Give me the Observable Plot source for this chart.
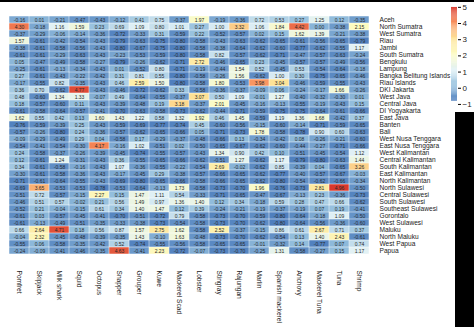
<!DOCTYPE html>
<html><head><meta charset="utf-8">
<script src="https://cdn.jsdelivr.net/npm/d3@7"></script>
<script src="https://cdn.jsdelivr.net/npm/@observablehq/plot@0.6"></script>
<style>
html,body{margin:0;padding:0;background:#fff;}
#wrap{position:relative;width:474px;height:327px;overflow:hidden;background:#fff;font-family:"Liberation Sans",Arial,sans-serif;}
#wrap svg{position:absolute;overflow:visible;}
.blk{position:absolute;background:#000;}
</style></head><body><div id="wrap"></div>
<script>
const provinces = ["Aceh","North Sumatra","West Sumatra","Riau","Jambi","South Sumatra","Bengkulu","Lampung","Bangka Belitung Islands","Riau Islands","DKI Jakarta","West Java","Central Java","DI Yogyakarta","East Java","Banten","Bali","West Nusa Tenggara","East Nusa Tenggara","West Kalimantan","Central Kalimantan","South Kalimantan","East Kalimantan","North Kalimantan","North Sulawesi","Central Sulawesi","South Sulawesi","Southeast Sulawesi","Gorontalo","West Sulawesi","Maluku","North Maluku","West Papua","Papua"];
const species = ["Pomfret","Skipjack","Milk shark","Squid","Octopus","Snapper","Grouper","Kuwe","Mackerel Scad","Lobster","Stingray","Rajungan","Marlin","Spanish mackerel","Anchovy","Mackerel Tuna","Tuna","Shrimp"];
const values = [
[-0.16,0.01,-0.21,-0.47,-0.43,-0.12,0.41,0.75,-0.37,1.97,-0.19,-0.36,0.72,0.53,0.27,1.25,0.12,-0.35],
[4.30,-0.18,1.16,1.59,0.23,0.69,1.09,0.80,1.01,0.27,1.00,3.32,1.06,1.84,4.42,0.00,-0.38,2.15],
[-0.37,-0.29,-0.06,-0.14,-0.36,-0.72,-0.33,0.31,-0.59,0.22,-0.52,-0.57,0.02,0.15,1.62,1.39,-0.21,-0.38],
[1.57,-0.61,-0.42,-0.54,-0.43,-0.79,-0.63,-0.75,-0.80,-0.58,-0.43,-0.63,-0.62,-0.65,-0.61,-0.56,-0.65,-0.79],
[-0.38,-0.61,-0.58,-0.56,-0.43,-0.80,-0.67,-0.75,-0.80,-0.58,-0.38,-0.64,-0.62,-0.60,-0.77,-0.62,-0.55,1.17],
[-0.61,-0.61,-0.29,-0.63,-0.43,-0.23,-0.53,-0.59,-0.80,-0.58,0.82,-0.57,-0.62,-0.71,-0.47,-0.57,-0.63,-0.24],
[0.05,-0.47,-0.49,-0.58,-0.27,-0.79,-0.26,-0.62,-0.71,2.72,-0.46,-0.65,0.23,-0.45,-0.57,-0.57,-0.49,-0.56],
[-0.25,-0.61,-0.13,-0.34,-0.43,0.01,-0.52,0.80,-0.71,-0.19,-0.44,1.54,0.52,-0.45,0.53,-0.54,-0.64,-0.18],
[0.27,-0.61,-0.43,-0.22,-0.42,0.31,0.81,0.55,-0.80,-0.58,-0.26,1.56,-0.62,1.00,0.30,-0.75,-0.65,-0.46],
[-0.17,-0.55,0.82,-0.35,-0.43,0.46,2.59,1.50,-0.80,-0.58,1.80,-0.53,3.98,3.04,-0.46,-0.59,-0.55,-0.43],
[0.36,0.70,-0.62,4.77,-0.43,-0.46,-0.72,-0.62,0.33,-0.58,-0.36,-0.37,-0.09,0.06,-0.24,-0.17,1.66,-0.26],
[0.48,-0.60,1.34,1.33,-0.07,0.49,-0.64,-0.55,-0.37,3.07,0.50,1.09,-0.01,1.27,-0.40,-0.32,-0.30,0.01],
[0.18,-0.57,-0.60,0.11,-0.43,-0.39,-0.48,0.19,3.18,-0.37,2.01,-0.45,-0.16,-0.13,-0.55,-0.19,-0.43,0.15],
[-0.61,-0.58,-0.64,-0.57,-0.41,-0.70,-0.63,-0.58,-0.73,-0.62,-0.44,-0.71,-0.59,-0.75,-0.75,-0.64,-0.61,-0.66],
[1.62,0.55,0.42,0.13,1.60,1.43,1.22,0.58,1.32,1.92,0.46,1.45,-0.59,1.19,1.36,1.68,-0.42,0.37],
[-0.76,-0.59,-0.39,0.25,-0.43,-0.59,-0.69,-0.77,-0.74,0.45,-0.60,-0.56,-0.15,-0.60,-0.14,-0.71,-0.59,-0.65],
[-0.57,-0.26,-0.80,0.24,-0.36,-0.57,-0.62,-0.65,-0.66,0.05,-0.71,-0.73,1.78,-0.58,-0.78,0.90,0.60,-0.63],
[-0.09,-0.29,-0.49,0.29,0.04,-0.58,0.17,-0.29,-0.37,-0.48,-0.66,0.13,-0.34,-0.42,0.08,-0.26,-0.21,-0.60],
[-0.54,-0.41,-0.54,-0.30,4.17,-0.16,1.02,-0.51,0.02,-0.50,-0.65,-0.67,-0.62,-0.60,-0.44,-0.27,-0.71,-0.66],
[0.24,-0.58,-0.37,-0.26,-0.39,-0.45,-0.74,-0.55,-0.57,-0.43,1.34,0.90,0.42,0.10,-0.51,-0.45,-0.54,1.12],
[0.12,-0.61,1.24,-0.31,-0.43,0.36,-0.55,-0.65,-0.66,-0.62,-0.51,1.27,-0.62,1.17,-0.79,-0.80,-0.63,1.44],
[0.34,-0.61,-0.58,-0.16,-0.43,1.07,-0.36,-0.55,-0.22,-0.54,2.69,-0.02,-0.62,0.85,-0.39,0.04,-0.65,3.26],
[-0.30,-0.61,-0.58,-0.36,-0.43,-0.17,-0.45,0.29,-0.38,-0.57,-0.66,-0.65,-0.62,-0.77,-0.40,-0.57,-0.67,-0.03],
[-0.71,-0.61,-0.64,-0.55,-0.43,-0.69,-0.80,-0.65,-0.66,-0.58,-0.66,-0.65,-0.62,-0.80,-0.54,-0.62,-0.66,-0.34],
[-0.69,3.65,-0.53,-0.53,-0.78,-0.53,-0.64,-0.13,1.73,-0.58,-0.73,-0.70,1.96,-0.76,-0.73,2.81,4.96,-0.50],
[-0.51,0.72,-0.57,-0.15,2.27,0.15,1.47,1.11,0.54,-0.33,-0.71,-0.65,-0.47,-0.67,-0.13,0.23,-0.36,-0.73],
[-0.46,0.51,0.57,-0.02,0.21,0.56,1.49,0.97,1.36,1.40,0.12,0.34,-0.18,0.59,0.28,0.47,0.66,-0.62],
[-0.52,0.21,-0.04,-0.15,0.61,0.34,1.40,1.47,0.12,0.39,-0.24,-0.21,-0.19,-0.37,-0.19,0.07,0.19,-0.41],
[-0.61,0.03,-0.57,-0.45,-0.41,-0.70,-0.51,-0.72,0.79,-0.58,-0.73,-0.70,-0.59,-0.80,-0.64,-0.18,1.09,-0.50],
[-0.61,-0.13,-0.49,-0.51,-0.35,-0.33,-0.38,-0.73,-0.54,-0.58,-0.73,-0.70,-0.62,-0.80,-0.64,-0.56,-0.36,-0.60],
[0.66,2.64,4.71,0.18,0.56,0.87,1.57,2.75,1.62,-0.58,2.52,-0.37,-0.15,0.86,0.61,2.67,0.71,0.37],
[-0.04,2.32,-0.45,-0.48,-0.39,-0.35,1.43,-0.10,1.63,-0.48,-0.73,-0.70,-0.62,-0.54,0.13,1.40,2.43,-0.61],
[-0.55,0.06,-0.58,-0.35,-0.42,0.52,-0.74,-0.55,-0.56,-0.58,-0.65,-0.65,-0.01,-0.32,0.14,-0.77,0.07,0.74],
[-0.24,-0.09,-0.41,-0.46,-0.35,4.63,-0.41,2.23,-0.72,-0.07,-0.73,-0.70,-0.25,1.31,-0.58,-0.27,0.15,1.17]
];
const legendTicks = [-1,0,1,2,3,4,5];
const paletteColors = ["#4f7fbe","#94bfdd","#e1f1f6","#fdfcc2","#fde296","#f9925e","#d8352a"];
const valueMin = -0.80, valueMax = 4.99;

const table = [];
provinces.forEach((p, i) => species.forEach((s, j) => table.push({province: p, species: s, value: values[i][j]})));

const colorStops = d3.range(paletteColors.length).map(i => valueMin + i * (valueMax - valueMin) / (paletteColors.length - 1));
const colorScale = {type: "linear", domain: colorStops, range: paletteColors, interpolate: "rgb", clamp: true};

const wrap = document.getElementById("wrap");

const main = Plot.plot({
  width: 474, height: 327,
  marginLeft: 0, marginRight: 97, marginTop: 3, marginBottom: 60,
  style: {fontFamily: "Liberation Sans, Arial, sans-serif", background: "transparent"},
  x: {domain: species, padding: 0, label: null},
  y: {domain: provinces, padding: 0, label: null},
  color: colorScale,
  marks: [
    Plot.cell(table, {x: "species", y: "province", fill: "value", inset: 0.25}),
    Plot.text(table, {x: "species", y: "province", text: d => d.value.toFixed(2), fontSize: 5, fill: "#2a2a2a"}),
    Plot.axisX({anchor: "bottom", tickRotate: 90, tickSize: 0, tickPadding: 3, fontSize: 6.6, fill: "#222", label: null}),
    Plot.axisY({anchor: "right", tickSize: 0, tickPadding: 2, fontSize: 6.6, fill: "#222", label: null})
  ]
});
main.style.left = "0px"; main.style.top = "0px";
wrap.appendChild(main);

const step = (valueMax - valueMin) / 100;
const steps = d3.range(100).map(i => valueMin + i * step);
const legend = Plot.plot({
  width: 34, height: 110,
  marginLeft: 11, marginRight: 17, marginTop: 7, marginBottom: 9.3,
  style: {fontFamily: "Liberation Sans, Arial, sans-serif", background: "transparent"},
  x: {domain: [0, 1], axis: null},
  y: {domain: [valueMin, valueMax], label: null, axis: null},
  color: colorScale,
  marks: [
    Plot.rect(steps, {x1: 0, x2: 1, y1: d => d, y2: d => d + step * 1.05, fill: d => d + step / 2}),
    Plot.axisY(legendTicks, {anchor: "right", tickSize: 3, tickPadding: 2, fontSize: 8, fill: "#222", label: null, tickFormat: d3.format("d")})
  ]
});
legend.style.left = "440px"; legend.style.top = "0px";
wrap.appendChild(legend);

[[0,0,474,2],[455,112,19,215]].forEach(([l,t,w,h]) => {
  const d = document.createElement("div"); d.className = "blk";
  d.style.left = l+"px"; d.style.top = t+"px"; d.style.width = w+"px"; d.style.height = h+"px";
  wrap.appendChild(d);
});
</script></body></html>
